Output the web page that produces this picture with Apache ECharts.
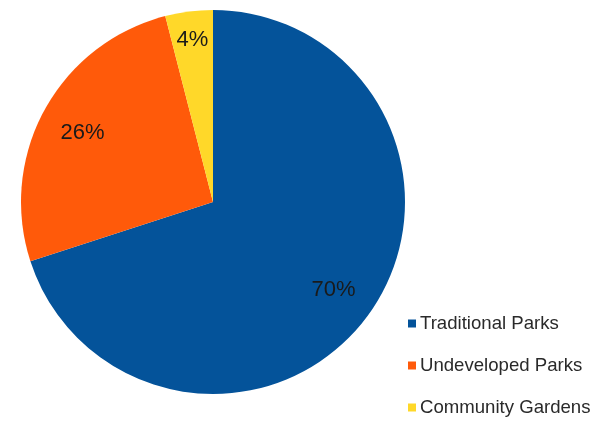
<!DOCTYPE html>
<html><head><meta charset="utf-8">
<script src="https://cdn.jsdelivr.net/npm/echarts@6/dist/echarts.min.js"></script>
<style>html,body{margin:0;padding:0;background:#fff}#c{width:613px;height:424px}</style>
</head><body><div id="c"></div>
<script>
const categories = ['Traditional Parks', 'Undeveloped Parks', 'Community Gardens'];
const values = [70, 26, 4];
const colors = ['#04539A', '#FF5A0A', '#FFD829'];

const chart = echarts.init(document.getElementById('c'), null, {renderer: 'canvas'});
const data = categories.map((n, i) => ({name: n, value: values[i], itemStyle: {color: colors[i]}}));
const labelData = categories.map((n, i) => ({
  name: n, value: values[i],
  label: i === 2 ? {offset: [-2, -14]} : (i === 1 ? {offset: [0, 3]} : {})
}));
chart.setOption({
  animation: false,
  legend: {
    orient: 'vertical', left: 408, top: 314, padding: 0,
    itemWidth: 8, itemHeight: 8, itemGap: 23, icon: 'rect',
    textStyle: {fontFamily: 'Liberation Sans', fontSize: 18.6, color: '#2a2a2a', padding: [0, 0, 0, -1]},
    data: categories
  },
  series: [{
    type: 'pie', center: [213, 202], radius: [0, 192], startAngle: 90, clockwise: true,
    label: {show: false}, labelLine: {show: false}, silent: true,
    itemStyle: {borderWidth: 0}, data: data
  }, {
    type: 'pie', center: [213, 202], radius: [100, 192], startAngle: 90, clockwise: true,
    itemStyle: {color: 'rgba(0,0,0,0)', borderWidth: 0}, silent: true, legendHoverLink: false,
    label: {show: true, position: 'inside', formatter: '{c}%', fontFamily: 'Liberation Sans', fontSize: 22, color: '#1a1a1a'},
    labelLine: {show: false}, data: labelData
  }]
});
</script></body></html>
